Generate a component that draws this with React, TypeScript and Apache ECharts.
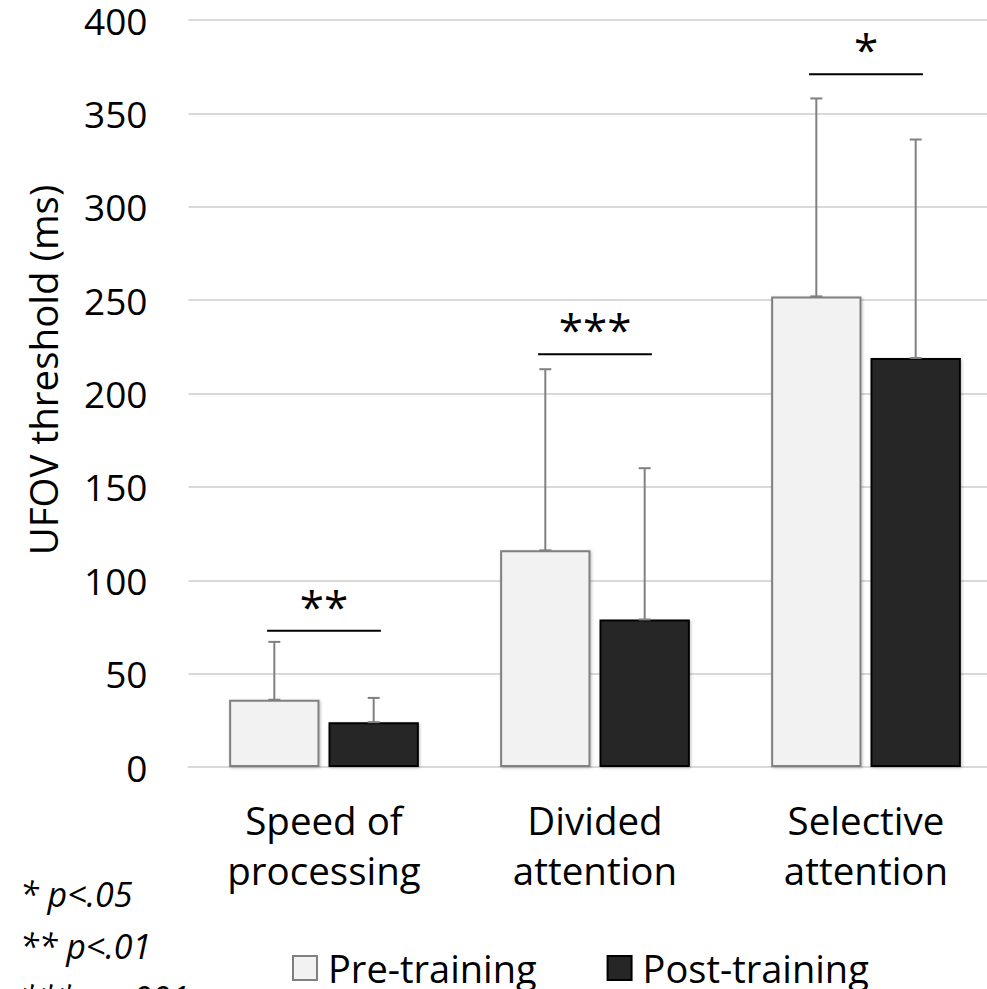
import React, { useEffect, useRef } from "react";
import * as echarts from "echarts";

const categories = ["Speed of\nprocessing", "Divided\nattention", "Selective\nattention"];
const preMeans = [36, 116, 252];
const postMeans = [24, 79, 219];
const preUpper = [67, 213, 358];
const postUpper = [37, 160, 336];
const sigLevels = [73, 221, 371];
const sigLabels = ["**", "***", "*"];
const footnotes = ["* p<.05", "** p<.01", "*** p<.001"];
const seriesNames = ["Pre-training", "Post-training"];
const yMin = 0;
const yMax = 400;
const yInterval = 50;

const FONT = "'Open Sans', sans-serif";

export default function App() {
  const ref = useRef<HTMLDivElement>(null);
  useEffect(() => {
    document.body.style.margin = "0";
    if (!ref.current) return;
    const chart = echarts.init(ref.current, null, { renderer: "svg" });

    const barCatGap = 0.3;
    const barGap = 0.1;

    const errorRender = (sign: number) => (params: any, api: any) => {
      const idx = api.value(0);
      const base = api.coord([idx, api.value(1)]);
      const top = api.coord([idx, api.value(2)]);
      const band = api.size([1, 0])[0];
      const bw = (band * (1 - barCatGap)) / (2 + barGap);
      const x = base[0] + sign * (bw * (1 + barGap)) / 2;
      const cap = 6;
      const style = { stroke: "#808080", lineWidth: 2 };
      return {
        type: "group",
        children: [
          { type: "line", shape: { x1: x, y1: base[1], x2: x, y2: top[1] }, style },
          { type: "line", shape: { x1: x - cap, y1: top[1], x2: x + cap, y2: top[1] }, style },
          { type: "line", shape: { x1: x - cap, y1: base[1], x2: x + cap, y2: base[1] }, style },
        ],
      };
    };

    const sigRender = (params: any, api: any) => {
      const idx = api.value(0);
      const p = api.coord([idx, api.value(1)]);
      const band = api.size([1, 0])[0];
      const half = band * 0.21;
      const label = sigLabels[params.dataIndex];
      return {
        type: "group",
        children: [
          {
            type: "line",
            shape: { x1: p[0] - half, y1: p[1], x2: p[0] + half, y2: p[1] },
            style: { stroke: "#000", lineWidth: 2 },
          },
          {
            type: "text",
            x: p[0],
            y: p[1] - 3,
            style: {
              text: label,
              fill: "#000",
              font: `44px ${FONT}`,
              align: "center",
              verticalAlign: "bottom",
            },
          },
        ],
      };
    };

    const option: any = {
      animation: false,
      backgroundColor: "#ffffff",
      textStyle: { fontFamily: FONT },
      grid: { left: 188.5, width: 813, top: 20, bottom: 222, outerBoundsMode: "none", containLabel: false },
      legend: {
        data: seriesNames,
        left: 287,
        top: 944,
        icon: "rect",
        itemWidth: 24,
        itemHeight: 24,
        itemGap: 70,
        textStyle: { fontSize: 38, color: "#000", fontFamily: FONT, padding: [0, 0, 0, 6] },
      },
      xAxis: {
        type: "category",
        data: categories,
        axisLine: { show: true, lineStyle: { color: "#d9d9d9", width: 2 } },
        axisTick: { show: false },
        axisLabel: {
          fontSize: 38.5,
          color: "#000",
          lineHeight: 50,
          margin: 28,
          fontFamily: FONT,
        },
      },
      yAxis: {
        type: "value",
        min: yMin,
        max: yMax,
        interval: yInterval,
        axisLine: { show: false },
        axisTick: { show: false },
        splitLine: { lineStyle: { color: "#d9d9d9", width: 2 } },
        axisLabel: { fontSize: 37, lineHeight: 37, color: "#000", margin: 41, fontFamily: FONT },
      },
      series: [
        {
          name: seriesNames[0],
          type: "bar",
          data: preMeans,
          barGap: `${barGap * 100}%`,
          barCategoryGap: `${barCatGap * 100}%`,
          itemStyle: {
            color: "#f2f2f2",
            borderColor: "#808080",
            borderWidth: 2,
            shadowBlur: 3,
            shadowColor: "rgba(0,0,0,0.25)",
            shadowOffsetX: 1,
            shadowOffsetY: 1,
          },
        },
        {
          name: seriesNames[1],
          type: "bar",
          data: postMeans,
          itemStyle: {
            color: "#262626",
            borderColor: "#000000",
            borderWidth: 2,
            shadowBlur: 3,
            shadowColor: "rgba(0,0,0,0.25)",
            shadowOffsetX: 1,
            shadowOffsetY: 1,
          },
        },
        {
          type: "custom",
          name: "preErr",
          renderItem: errorRender(-1),
          data: preMeans.map((m, i) => [i, m, preUpper[i]]),
          z: 5,
          silent: true,
        },
        {
          type: "custom",
          name: "postErr",
          renderItem: errorRender(1),
          data: postMeans.map((m, i) => [i, m, postUpper[i]]),
          z: 5,
          silent: true,
        },
        {
          type: "custom",
          name: "sig",
          renderItem: sigRender,
          data: sigLevels.map((v, i) => [i, v]),
          z: 6,
          silent: true,
        },
      ],
      graphic: [
        {
          type: "text",
          x: 43,
          y: 370,
          rotation: Math.PI / 2,
          style: {
            text: "UFOV threshold (ms)",
            font: `38.5px ${FONT}`,
            fill: "#000",
            align: "center",
            verticalAlign: "middle",
          },
        },
        ...footnotes.map((t, i) => ({
          type: "text",
          left: 20,
          top: 877 + i * 52,
          style: {
            text: t,
            font: `italic 34px ${FONT}`,
            fill: "#000",
          },
        })),
      ],
    };
    chart.setOption(option);
    return () => chart.dispose();
  }, []);
  return <div ref={ref} style={{ width: 987, height: 989 }} />;
}
